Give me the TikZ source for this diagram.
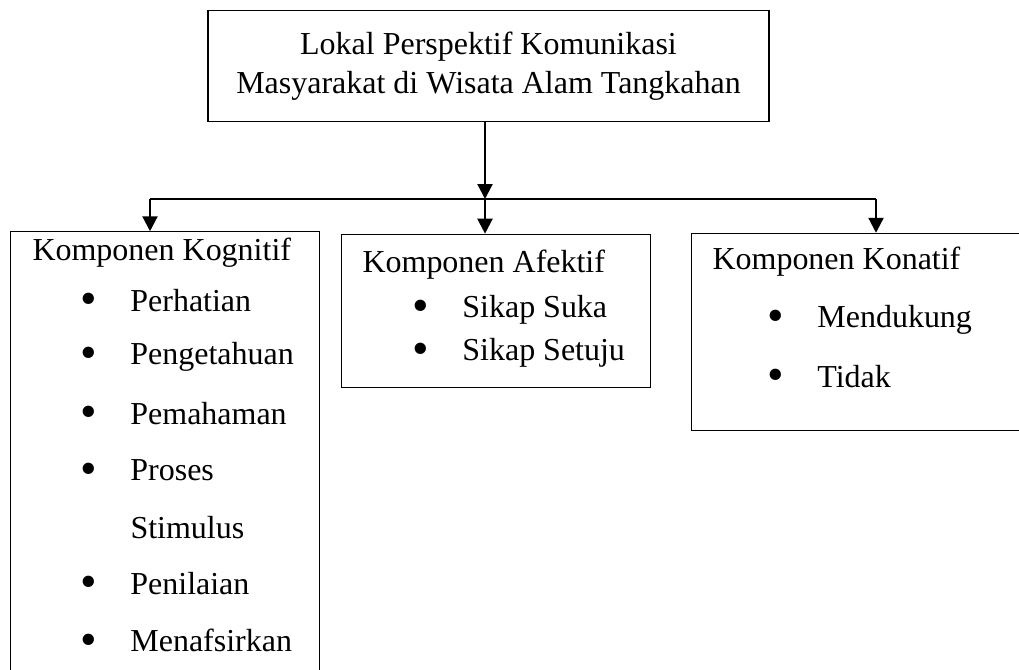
\documentclass[tikz,border=0pt]{standalone}
\usepackage{fontspec}
\setmainfont{Liberation Serif}
\usetikzlibrary{arrows.meta, positioning}

\def\px{0.3785pt}
\newcommand{\butir}[1]{\makebox[17.8pt][l]{\hspace{-1.2pt}\raisebox{-1.4pt}{\fontsize{18pt}{18pt}\selectfont\textbullet}}#1}

\tikzset{
  kotak/.style={draw, line width=0.45pt, inner sep=0pt},
  teks/.style={anchor=west, inner sep=0pt},
  panah/.style={line width=0.85pt, -{Triangle[width=15*\px, length=15*\px]}},
}

\begin{document}
\begin{tikzpicture}[x=0.01335cm, y=-0.01335cm,
    font=\fontsize{12.15pt}{14.6pt}\selectfont]
    \useasboundingbox (0, 0) rectangle (1019, 669);
    \clip (0, 0) rectangle (1019, 669);

    \node[kotak, align=center, minimum width=563*\px, minimum height=112*\px] (lokal) at (488.5, 66)
        {Lokal Perspektif Komunikasi\\Masyarakat di Wisata Alam Tangkahan};

    \node[kotak, minimum width=310*\px, minimum height=460*\px] (kognitif) at (165, 461) {};
    \node[kotak, minimum width=310*\px, minimum height=154*\px] (afektif) at (496, 311) {};
    \node[kotak, minimum width=360*\px, minimum height=198*\px] (konatif) at (871, 332) {};

    % cabang
    \coordinate (bus) at (485, 199);
    \coordinate (busL) at (150, 199);
    \coordinate (busR) at (876, 199);
    \draw[line width=0.85pt] (busL) -- (busR);
    \draw[panah] (lokal.south -| bus) -- (bus);
    \draw[panah] (busL) -- (busL |- kognitif.north);
    \draw[panah] (bus) -- (bus |- afektif.north);
    \draw[panah] (busR) -- (busR |- konatif.north);

    % kognitif
    \node[teks] (kogJudul) at (32, 253) {Komponen Kognitif};
    \node[teks] (kog1) at (83, 302) {\butir{Perhatian}};
    \node[teks] (kog2) at (83, 357) {\butir{Pengetahuan}};
    \node[teks] (kog3) at (83, 415) {\butir{Pemahaman}};
    \node[teks] (kog4) at (83, 472) {\butir{Proses}};
    \node[teks] (kog4b) at (130, 528) {Stimulus};
    \node[teks] (kog5) at (83, 585) {\butir{Penilaian}};
    \node[teks] (kog6) at (83, 642) {\butir{Menafsirkan}};

    % afektif
    \node[teks] (afeJudul) at (362, 265) {Komponen Afektif};
    \node[teks] (afe1) at (415, 310) {\butir{Sikap Suka}};
    \node[teks] (afe2) at (415, 353) {\butir{Sikap Setuju}};

    % konatif
    \node[teks] (konJudul) at (712, 262) {Komponen Konatif};
    \node[teks] (kon1) at (770, 320) {\butir{Mendukung}};
    \node[teks] (kon2) at (770, 378) {\butir{Tidak}};
\end{tikzpicture}
\end{document}
